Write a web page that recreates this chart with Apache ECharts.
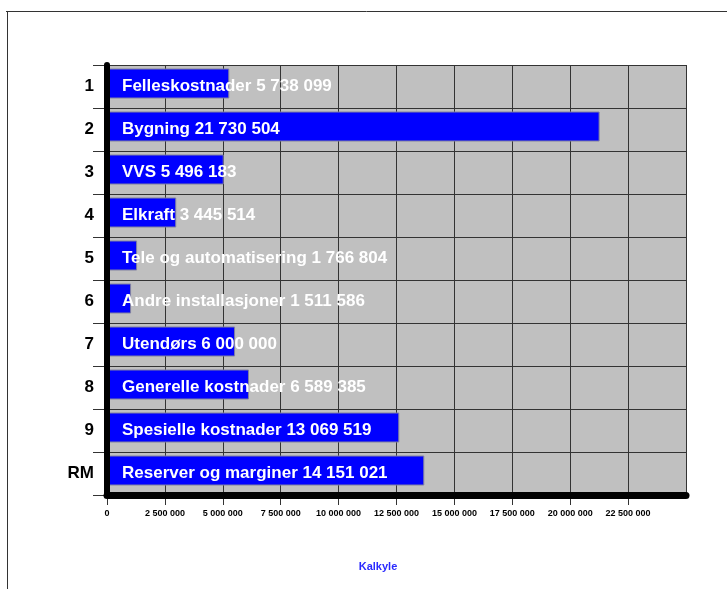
<!DOCTYPE html>
<html>
<head>
<meta charset="utf-8">
<script src="https://cdn.jsdelivr.net/npm/echarts@6/dist/echarts.min.js"></script>
<style>
html,body{margin:0;padding:0;background:#fff;}
#c{width:727px;height:589px;}
</style>
</head>
<body>
<div id="c"></div>
<script>
// Row labels (top to bottom)
var rowLabels = ['1', '2', '3', '4', '5', '6', '7', '8', '9', 'RM'];
// Item names
var itemNames = ['Felleskostnader', 'Bygning', 'VVS', 'Elkraft', 'Tele og automatisering',
  'Andre installasjoner', 'Utendørs', 'Generelle kostnader', 'Spesielle kostnader', 'Reserver og marginer'];
// Amounts printed in the bar labels
var labelAmounts = [5738099, 21730504, 5496183, 3445514, 1766804, 1511586, 6000000, 6589385, 13069519, 14151021];
// Bar lengths
var barLengths = [5280000, 21270000, 5040000, 2990000, 1300000, 1040000, 5530000, 6130000, 12620000, 13700000];
// Axis ticks
var tickStep = 2500000;
var axisMax = 25000000;
var axisTitle = 'Kalkyle';

function fmt(n) {
  return String(n).replace(/\B(?=(\d{3})+(?!\d))/g, ' ');
}

var chart = echarts.init(document.getElementById('c'), null, {renderer: 'canvas'});
var FONT = '"Liberation Sans", Arial, sans-serif';

chart.setOption({
  animation: false,
  backgroundColor: '#ffffff',
  title: {
    text: axisTitle,
    left: 373, top: 556,
    textAlign: 'center',
    textStyle: {fontFamily: FONT, fontWeight: 'bold', fontSize: 11, color: '#2a2aff'}
  },
  graphic: [
    {type: 'line', shape: {x1: 6, y1: 11.5, x2: 727, y2: 11.5}, style: {stroke: '#333', lineWidth: 1}},
    {type: 'line', shape: {x1: 7.5, y1: 11, x2: 7.5, y2: 589}, style: {stroke: '#333', lineWidth: 1}}
  ],
  grid: {left: 107, top: 65, right: 41, bottom: 94, show: true, backgroundColor: '#c0c0c0', borderWidth: 0},
  xAxis: [{
    type: 'value',
    min: 0, max: axisMax, interval: tickStep,
    z: 0,
    axisLine: {show: false},
    axisTick: {show: true, length: 10, lineStyle: {color: '#333', width: 1}},
    axisLabel: {
      margin: 14, fontFamily: FONT, fontWeight: 'bold', fontSize: 9, color: '#000',
      showMaxLabel: false,
      formatter: function (v) { return v >= axisMax ? '' : fmt(v); }
    },
    splitLine: {show: true, lineStyle: {color: '#333', width: 1}}
  }, {
    type: 'value',
    position: 'bottom',
    min: 0, max: axisMax, interval: tickStep,
    z: 10,
    axisLine: {show: true, onZero: false, lineStyle: {color: '#000', width: 7, cap: 'round'}},
    axisTick: {show: false},
    axisLabel: {show: false},
    splitLine: {show: false}
  }],
  yAxis: [{
    type: 'category',
    inverse: true,
    data: rowLabels,
    z: 0,
    axisLine: {show: false},
    axisTick: {show: true, length: 14, lineStyle: {color: '#333', width: 1}},
    axisLabel: {margin: 13, fontFamily: FONT, fontWeight: 'bold', fontSize: 17, color: '#000'},
    splitLine: {show: true, lineStyle: {color: '#333', width: 1}}
  }, {
    type: 'category',
    position: 'left',
    inverse: true,
    data: rowLabels,
    z: 10,
    axisLine: {show: true, onZero: false, lineStyle: {color: '#000', width: 6, cap: 'round'}},
    axisTick: {show: false},
    axisLabel: {show: false},
    splitLine: {show: false}
  }],
  series: [
    {
      type: 'bar',
      xAxisIndex: 0, yAxisIndex: 0,
      data: barLengths,
      barWidth: 30,
      barGap: '0%',
      z: 3,
      itemStyle: {color: '#0000ff', borderColor: '#8080a0', borderWidth: 1},
      label: {
        show: true,
        position: 'insideLeft',
        distance: 15,
        offset: [0, 3],
        fontFamily: FONT, fontWeight: 'bold', fontSize: 17, color: '#ffffff',
        formatter: function (p) { return itemNames[p.dataIndex] + ' ' + fmt(labelAmounts[p.dataIndex]); }
      }
    },
    {
      type: 'bar',
      xAxisIndex: 0, yAxisIndex: 0,
      data: rowLabels.map(function () { return 0; }),
      barWidth: 6,
      silent: true,
      itemStyle: {color: 'rgba(0,0,0,0)'}
    }
  ]
});
</script>
</body>
</html>
